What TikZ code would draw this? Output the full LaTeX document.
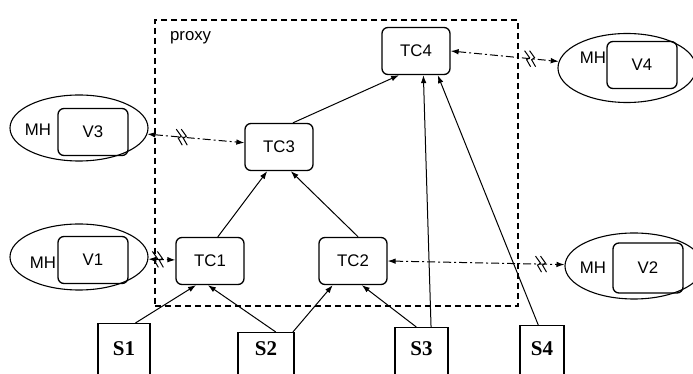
\documentclass[tikz,border=0pt]{standalone}
\usepackage{fontspec}
\setmainfont{Liberation Serif}
\setsansfont{Liberation Sans}
\usetikzlibrary{arrows.meta,shapes.geometric}

\begin{document}
\begin{tikzpicture}
  [x=0.5pt,y=-0.5pt,
   every node/.style={font=\sffamily\fontsize{8.4}{10}\selectfont},
   proxy/.style={draw,dash pattern=on 3pt off 2pt,line width=.6pt,
     minimum width=181.5pt,minimum height=143pt,inner sep=0pt},
   tc/.style={draw,rounded corners=3pt,line width=.65pt,
     minimum width=34pt,minimum height=23.5pt,inner sep=0pt},
   vbox/.style={draw,rounded corners=3pt,line width=.65pt,
     minimum width=35pt,minimum height=23.5pt,inner sep=0pt},
   mh/.style={draw,ellipse,line width=.55pt,minimum width=69pt,
     minimum height=33pt,inner sep=0pt},
   src/.style={draw,line width=.65pt,anchor=north,inner sep=0pt,
     text depth=15pt,
     font=\rmfamily\bfseries\fontsize{10.5}{12}\selectfont},
   feed/.style={-{Latex[length=4pt,width=2.8pt]},line width=.5pt},
   wlink/.style={{Latex[length=4pt,width=2.8pt]}-{Latex[length=4pt,width=2.8pt]},
     line width=.5pt,dash pattern=on 4pt off 1.5pt on 1pt off 1.5pt},
   wless/.pic={\draw[line width=.5pt]
     (-6,-8) -- (-1,-1) -- (-4,1) -- (0,8)
     (-1,-8) -- (4,-1) -- (1,1) -- (5,8);}]

  \useasboundingbox (0,0) rectangle (693,374);
  \clip (0,0) rectangle (693,374);

  % proxy area
  \node [proxy] (P) at (336.5,163) {};
  \node [anchor=west] (Plab) at (163,38) {proxy};

  % transcoders
  \node [tc] (TC4) at (416,51) {TC4};
  \node [tc] (TC3) at (279,147) {TC3};
  \node [tc] (TC1) at (210,261) {TC1};
  \node [tc] (TC2) at (353,261) {TC2};

  % mobile hosts
  \node [mh] (V3e) at (79,128) {};
  \node [vbox] (V3) at (93,132) {V3};
  \node (MH3) at (38,130) {MH};
  \node [mh] (V1e) at (79,257) {};
  \node [vbox] (V1) at (93,260) {V1};
  \node (MH1) at (43,263) {MH};
  \node [mh,minimum height=34.5pt] (V4e) at (627,68) {};
  \node [vbox] (V4) at (642,65) {V4};
  \node (MH4) at (593,58) {MH};
  \node [mh] (V2e) at (634,266) {};
  \node [vbox,minimum height=25pt] (V2) at (648,268) {V2};
  \node (MH2) at (593,268) {MH};

  % sources
  \node [src,minimum width=26pt,text height=15.75pt] (S1) at (124,323) {S1};
  \node [src,minimum width=28pt,text height=11.25pt] (S2) at (266,332) {S2};
  \node [src,minimum width=26.5pt,text height=13.75pt] (S3) at (421.5,327) {S3};
  \node [src,minimum width=22pt,text height=14.75pt] (S4) at (542,325) {S4};

  \foreach \from/\to in {TC3.60/TC4.235,TC1.72/TC3.244,TC2.78/TC3.296,
      S1.70/TC1.240,S2.70/TC1.265,S2.45/TC2.230,S3.100/TC2.290,
      S3.72/TC4.287,S4.97/TC4.312}
    \draw [feed] (\from) -- (\to);

  % wireless links
  \draw [wlink] (V3e) -- coordinate[pos=.36] (w3) (TC3.173);
  \draw [wlink] (V1e) -- coordinate[pos=.37] (w1) (TC1);
  \draw [wlink] (TC4.east) -- coordinate[pos=.74] (w4) (V4e);
  \draw [wlink] (TC2.east) -- coordinate[pos=.87] (w2) (V2e);
  \foreach \w in {w1,w2,w3,w4}
    \pic at (\w) {wless};
\end{tikzpicture}
\end{document}
